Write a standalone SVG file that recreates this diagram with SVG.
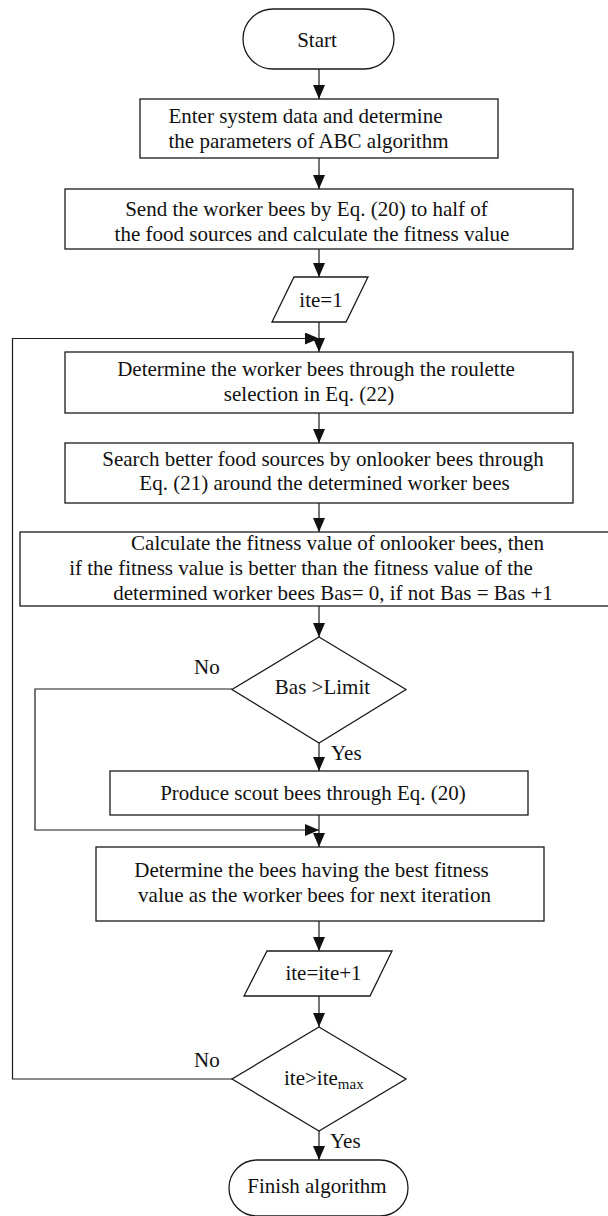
<svg xmlns="http://www.w3.org/2000/svg" width="608" height="1216" viewBox="0 0 608 1216" xml:space="preserve">
<style>
.n{fill:#fff;stroke:#1a1a1a;stroke-width:1.3}
.c{fill:none;stroke:#1a1a1a;stroke-width:1.2}
text{font-family:"Liberation Serif","Times New Roman",serif;font-size:21px;fill:#111}
.m{text-anchor:middle}
</style>
<defs>
<marker id="ah" viewBox="0 0 14 12" refX="14" refY="6" markerWidth="14" markerHeight="12" markerUnits="userSpaceOnUse" orient="auto">
<path d="M0,0 L14,6 L0,12 Z" fill="#111"/>
</marker>
</defs>
<rect width="608" height="1216" fill="#fff"/>
<g id="connectors">
<line class="c" x1="319" y1="69" x2="319" y2="99" marker-end="url(#ah)"/>
<line class="c" x1="319" y1="158" x2="319" y2="189" marker-end="url(#ah)"/>
<line class="c" x1="319" y1="249" x2="319" y2="277" marker-end="url(#ah)"/>
<line class="c" x1="319" y1="322" x2="319" y2="352" marker-end="url(#ah)"/>
<line class="c" x1="319" y1="413" x2="319" y2="443" marker-end="url(#ah)"/>
<line class="c" x1="319" y1="503" x2="319" y2="532" marker-end="url(#ah)"/>
<line class="c" x1="319" y1="606" x2="319" y2="637" marker-end="url(#ah)"/>
<line class="c" x1="319" y1="743" x2="319" y2="771" marker-end="url(#ah)"/>
<line class="c" x1="319" y1="815" x2="319" y2="847" marker-end="url(#ah)"/>
<polyline class="c" points="232,689 35,689 35,830 319,830" marker-end="url(#ah)"/>
<line class="c" x1="319" y1="921" x2="319" y2="951" marker-end="url(#ah)"/>
<line class="c" x1="319" y1="996" x2="319" y2="1027" marker-end="url(#ah)"/>
<line class="c" x1="319" y1="1131" x2="319" y2="1160" marker-end="url(#ah)"/>
<polyline class="c" points="232,1079 12.5,1079 12.5,338.5 319,338.5" marker-end="url(#ah)"/>
<text x="194" y="674">No</text>
<text x="331" y="760">Yes</text>
<text x="194" y="1067">No</text>
<text x="330" y="1148">Yes</text>
</g>
<g id="start">
<rect class="n" x="243" y="9" width="151" height="60" rx="30" ry="30"/>
<text class="m" x="317" y="47">Start</text>
</g>
<g id="enter-data">
<rect class="n" x="140" y="99" width="358" height="59"/>
<text class="m" x="305.5" y="123">Enter system data and determine</text>
<text class="m" x="308.5" y="148">the parameters of ABC algorithm</text>
</g>
<g id="send-workers">
<rect class="n" x="65" y="189" width="508" height="60"/>
<text class="m" x="306.5" y="216">Send the worker bees by Eq.  (20)  to half of</text>
<text class="m" x="312" y="241">the food sources and calculate the fitness value</text>
</g>
<g id="ite-init">
<polygon class="n" points="294,277 368,277 346,322 272,322"/>
<text class="m" x="321" y="306.5">ite=1</text>
</g>
<g id="roulette">
<rect class="n" x="65" y="352" width="508" height="61"/>
<text class="m" x="316" y="376">Determine the worker bees through the roulette</text>
<text class="m" x="309" y="401">selection in Eq.  (22)</text>
</g>
<g id="onlooker-search">
<rect class="n" x="65" y="443" width="508" height="60"/>
<text class="m" x="323" y="466">Search better food sources by onlooker bees through</text>
<text class="m" x="324.5" y="490">Eq. (21)  around the determined worker bees</text>
</g>
<g id="fitness-calc">
<rect class="n" x="20" y="532" width="600" height="74"/>
<text class="m" x="337.5" y="550">Calculate the fitness value of onlooker bees, then</text>
<text class="m" x="301" y="575">if the fitness value is better than the fitness value of the</text>
<text class="m" x="333" y="600">determined worker bees Bas= 0, if not Bas = Bas +1</text>
</g>
<g id="limit-check">
<polygon class="n" points="319,637 406,689.5 319,743 232,689.5"/>
<text class="m" x="322.5" y="694">Bas &gt;Limit</text>
</g>
<g id="scout">
<rect class="n" x="110" y="771" width="418" height="44"/>
<text class="m" x="313" y="800">Produce scout bees through Eq. (20)</text>
</g>
<g id="best-fitness">
<rect class="n" x="96" y="847" width="448" height="74"/>
<text class="m" x="311.5" y="877">Determine the bees having the best fitness</text>
<text class="m" x="314.5" y="902">value as the worker bees for next iteration</text>
</g>
<g id="ite-inc">
<polygon class="n" points="267,951 392,951 370,996 244,996"/>
<text class="m" x="323.5" y="980">ite=ite+1</text>
</g>
<g id="max-check">
<polygon class="n" points="319,1027 406,1079 319,1131 232,1079"/>
<text x="284" y="1085">ite&gt;ite<tspan font-size="15" dy="4">max</tspan></text>
</g>
<g id="finish">
<rect class="n" x="229" y="1160" width="179" height="56" rx="28" ry="28"/>
<text class="m" x="317" y="1193">Finish algorithm</text>
</g>
</svg>
